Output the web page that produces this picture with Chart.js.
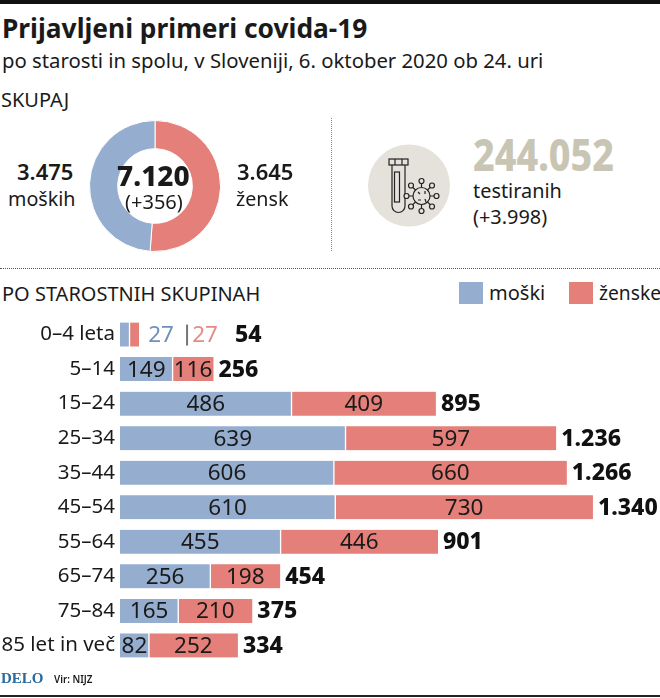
<!DOCTYPE html>
<html><head><meta charset="utf-8">
<script src="https://cdn.jsdelivr.net/npm/chart.js@4"></script>
<style>
html,body{margin:0;padding:0;background:#fff;}
#page{position:relative;width:660px;height:698px;overflow:hidden;font-family:"Noto Sans",sans-serif;color:#1a1a1a;}
.t{position:absolute;white-space:nowrap;line-height:1;transform-origin:0 0;}
canvas{position:absolute;}
</style></head><body>
<div id="page">
<div style="position:absolute;left:0;top:0;width:660px;height:4px;background:#111"></div>
<div class="t" id="title" style="left:2px;top:14px;font-size:27px;font-weight:700;transform:scaleX(.975)">Prijavljeni primeri covida-19</div>
<div class="t" style="left:2px;top:50px;font-size:20.5px;transform:scaleX(.99)">po starosti in spolu, v Sloveniji, 6. oktober 2020 ob 24. uri</div>
<div class="t" style="left:1px;top:90px;font-size:20px">SKUPAJ</div>

<canvas id="donut" width="132" height="132" style="left:89px;top:120px"></canvas>
<div class="t" style="left:17px;top:160px;font-size:22px;font-weight:600">3.475</div>
<div class="t" style="left:8px;top:188px;font-size:20.5px;transform:scaleX(.96)">moških</div>
<div class="t" style="left:117px;top:161px;font-size:28px;font-weight:800">7.120</div>
<div class="t" style="left:125px;top:192px;font-size:20px">(+356)</div>
<div class="t" style="left:237px;top:160px;font-size:22px;font-weight:600">3.645</div>
<div class="t" style="left:236px;top:188px;font-size:20.5px;transform:scaleX(.96)">žensk</div>

<div style="position:absolute;left:331px;top:118px;height:133px;border-left:1px dotted #888"></div>

<svg style="position:absolute;left:368px;top:144px" width="84" height="84" viewBox="0 0 84 84" fill="none" stroke="#222" stroke-width="1.2">
<circle cx="41" cy="41.5" r="41" fill="#e5e2dc" stroke="none"/>
<rect x="21" y="15" width="19" height="6"/><line x1="27" y1="15" x2="27" y2="21"/><line x1="34" y1="15" x2="34" y2="21"/>
<path d="M24 21V62a6.5 6.500 0 0 0 13 0V21"/><rect x="26.5" y="28" width="5" height="30"/>
<circle cx="53.5" cy="52" r="8.5"/>
<path d="M53.5 43.5V39M53.5 60.5V65M45 52h-4.5M62 52h4.5M47.5 46l-3.200-3.200M59.500 58l3.200 3.200M59.500 46l3.200-3.200M47.500 58l-3.200 3.200"/>
<g fill="#e5e2dc"><circle cx="53.5" cy="37" r="2.5"/><circle cx="53.5" cy="67" r="2.5"/><circle cx="38.500" cy="52" r="2.500"/><circle cx="68.500" cy="52" r="2.500"/><circle cx="43" cy="41.500" r="2.500"/><circle cx="64" cy="62.500" r="2.500"/><circle cx="64" cy="41.500" r="2.500"/><circle cx="43" cy="62.500" r="2.500"/></g>
<path d="M50 48l2 2M57 47v3M50 56h3M57 55l1 3"/>
</svg>

<div class="t" style="left:473px;top:131px;font-size:45px;font-weight:800;color:#c9c5b5;transform:scaleX(.835)">244.052</div>
<div class="t" style="left:473px;top:180px;font-size:20.5px;transform:scaleX(.97)">testiranih</div>
<div class="t" style="left:473px;top:206px;font-size:20.5px;transform:scaleX(.97)">(+3.998)</div>

<div style="position:absolute;left:0;top:268px;width:660px;border-top:1px dotted #555"></div>
<div class="t" style="left:2px;top:284px;font-size:20px">PO STAROSTNIH SKUPINAH</div>
<div style="position:absolute;left:459px;top:282px;width:24px;height:22px;background:#95aecf"></div>
<div class="t" style="left:489px;top:283px;font-size:20px">moški</div>
<div style="position:absolute;left:569px;top:282px;width:24px;height:22px;background:#e57f79"></div>
<div class="t" style="left:599px;top:283px;font-size:20px;transform:scaleX(.96)">ženske</div>

<canvas id="bars" width="660" height="380" style="left:0;top:300px"></canvas>

<div class="t" style="left:1px;top:671px;font-size:15px;font-weight:700;font-family:'Liberation Serif',serif;color:#2a6a9e">DELO</div>
<div class="t" style="left:54px;top:673px;font-size:11.5px;font-weight:600;transform:scaleX(.85)">Vir: NIJZ</div>
<div style="position:absolute;left:0;top:695px;width:660px;height:2px;background:#222"></div>
</div>
<script>
const ageGroups=["0–4 leta","5–14","15–24","25–34","35–44","45–54","55–64","65–74","75–84","85 let in več"];
const men=[27,149,486,639,606,610,455,256,165,82];
const women=[27,116,409,597,660,730,446,198,210,252];
const totals=[54,256,895,"1.236","1.266","1.340",901,454,375,334];
const donutLabels=["ženske","moški"];
const donutValues=[3645,3475];
const BLUE="#95aecf",RED="#e57f79";
const FONT='"Noto Sans",sans-serif';

new Chart(document.getElementById("donut"),{type:"doughnut",
 data:{labels:donutLabels,datasets:[{data:donutValues,backgroundColor:[RED,BLUE],borderColor:"#fff",borderWidth:1}]},
 options:{responsive:false,animation:false,cutout:"57%",layout:{padding:0},plugins:{legend:{display:false},tooltip:{enabled:false}}}
});

const valueLabels={id:"valueLabels",afterDatasetsDraw(c){
 const g=c.ctx,m=c.getDatasetMeta(0).data,w=c.getDatasetMeta(1).data;
 g.save();g.textBaseline="middle";
 const put=(txt,x,y,font,col,al)=>{g.font=font;g.fillStyle=col;g.textAlign=al;g.fillText(txt,x,y+1);};
 const reg='22.5px '+FONT,bold='800 23px '+FONT;
 ageGroups.forEach((_,i)=>{
  const y=m[i].y,end=w[i].x;
  if(i===0){
   put(men[i],end+22,y,reg,"#6d90bd","center");
   g.fillStyle="#777";g.fillRect(end+47,y-10,2,21);
   put(women[i],end+66,y,reg,"#e58b85","center");
   put(totals[i],end+96,y,bold,"#111","left");
  }else{
   put(men[i],(m[i].x+m[i].base)/2,y,reg,"#1a1a1a","center");
   put(women[i],(w[i].x+w[i].base)/2,y,reg,"#1a1a1a","center");
   put(totals[i],end+5,y,bold,"#111","left");
  }
 });
 g.restore();
}};

new Chart(document.getElementById("bars"),{type:"bar",
 data:{labels:ageGroups,datasets:[
  {label:"moški",data:men,backgroundColor:BLUE,borderColor:"#fff",borderWidth:{right:1,left:0,top:0,bottom:0},borderSkipped:false,barThickness:24,stack:"s"},
  {label:"ženske",data:women,backgroundColor:RED,borderColor:"#fff",borderWidth:{left:1,right:0,top:0,bottom:0},borderSkipped:false,barThickness:24,stack:"s"}]},
 options:{indexAxis:"y",responsive:false,animation:false,
  layout:{padding:0},
  scales:{
   x:{stacked:true,display:false,min:0,max:1530},
   y:{stacked:true,grid:{display:false,drawTicks:false},border:{display:false},
      ticks:{color:"#1a1a1a",font:{family:FONT,size:20.5},padding:5,autoSkip:false},
      afterFit(s){s.width=120;}}
  },
  plugins:{legend:{display:false},tooltip:{enabled:false}}},
 plugins:[valueLabels]
});
</script>
</body></html>
